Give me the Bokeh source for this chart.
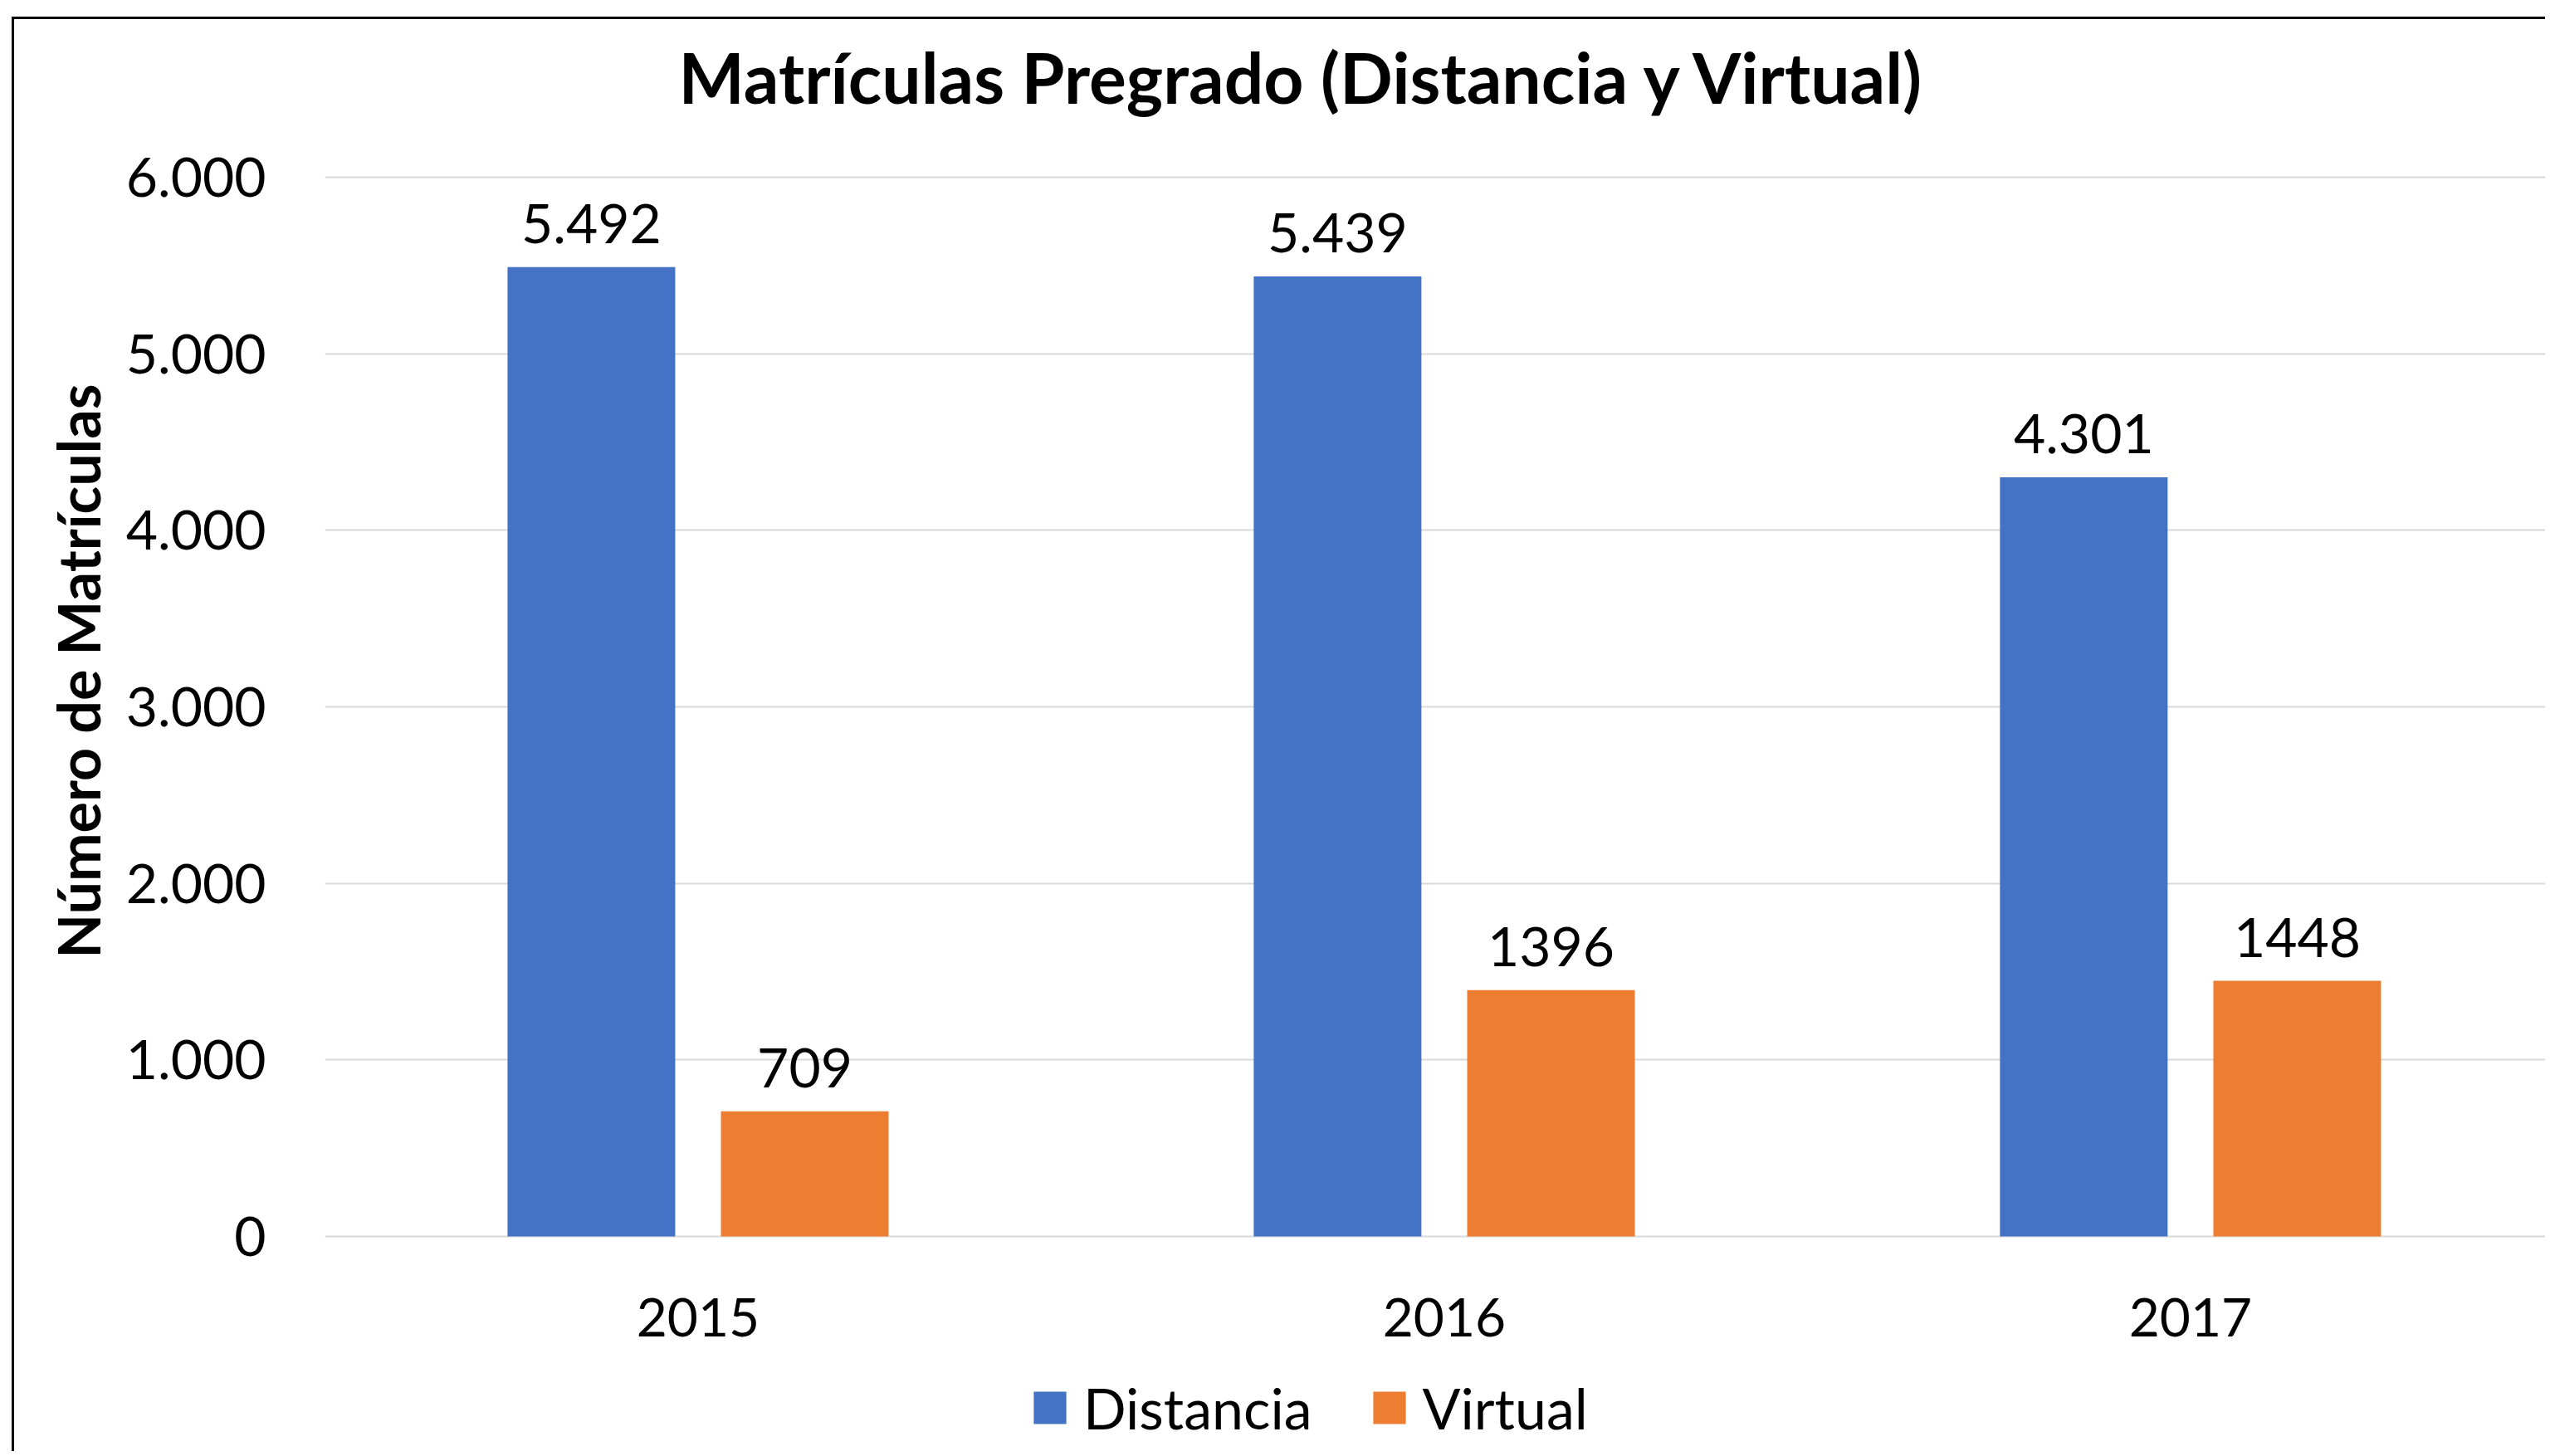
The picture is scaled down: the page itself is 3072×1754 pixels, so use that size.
from bokeh.plotting import figure
from bokeh.models import (ColumnDataSource, Range1d, FixedTicker, Legend, LegendItem,
                          Title, Label)
from bokeh.embed import file_html
from bokeh.resources import INLINE
from bokeh.core.properties import value

# ---- data ----
title_text = "Matrículas Pregrado (Distancia y Virtual)"
y_title_text = "Número de Matrículas"
years = ["2015", "2016", "2017"]
distancia = [5492, 5439, 4301]
virtual = [709, 1396, 1448]
distancia_labels = ["5.492", "5.439", "4.301"]
virtual_labels = ["709", "1396", "1448"]
y_ticks = [0, 1000, 2000, 3000, 4000, 5000, 6000]
y_tick_labels = ["0", "1.000", "2.000", "3.000", "4.000", "5.000", "6.000"]
series_names = ["Distancia", "Virtual"]
colors = ["#4472C4", "#ED7D31"]

FONT = "Lato"
BAR_W = 0.2247
OFFSET = 0.143

centers = [i + 0.5 for i in range(len(years))]

src_d = ColumnDataSource(dict(x=[c - OFFSET for c in centers], top=distancia, label=distancia_labels))
src_v = ColumnDataSource(dict(x=[c + OFFSET for c in centers], top=virtual, label=virtual_labels))

p = figure(width=3052, height=1728,
           x_range=Range1d(0, 2.979), y_range=Range1d(-1232, 6894),
           output_backend="svg", toolbar_location=None,
           min_border_left=374, min_border_right=0,
           min_border_top=0, min_border_bottom=0)
p.margin = (20, 0, 0, 14)
p.styles = {"border-top": "3px solid black", "border-left": "3px solid black"}
p.outline_line_color = None
p.background_fill_color = "white"
p.border_fill_color = "white"
p.title.visible = False

xax = p.below[0]
yax = p.left[0]

# chart title (placed above the 6.000 gridline)
p.add_layout(Label(x=1.311, y=6570, x_units="data", y_units="data", text=title_text,
                   text_font=FONT, text_font_size="84px", text_font_style="bold",
                   text_color="black", text_align="center", text_baseline="alphabetic"))

r_d = p.vbar(x="x", top="top", width=BAR_W, source=src_d, fill_color=colors[0], line_color=None)
r_v = p.vbar(x="x", top="top", width=BAR_W, source=src_v, fill_color=colors[1], line_color=None)

for src in (src_d, src_v):
    p.text(x="x", y="top", text="label", source=src,
           text_font=value(FONT), text_font_size="66px", text_color="black",
           text_align="center", text_baseline="alphabetic", y_offset=-52)

# axes
xax.fixed_location = 0
xax.ticker = FixedTicker(ticks=centers)
xax.major_label_overrides = {c: y for c, y in zip(centers, years)}
xax.major_label_text_font = FONT
xax.major_label_text_font_size = "64px"
xax.major_label_text_color = "black"
xax.major_tick_line_color = None
xax.minor_tick_line_color = None
xax.axis_line_color = None
xax.major_label_standoff = 68

yax.ticker = FixedTicker(ticks=y_ticks)
yax.major_label_overrides = {t: l for t, l in zip(y_ticks, y_tick_labels)}
yax.major_label_text_font = FONT
yax.major_label_text_font_size = "66px"
yax.major_label_text_color = "black"
yax.major_tick_line_color = None
yax.minor_tick_line_color = None
yax.axis_line_color = None
yax.major_label_standoff = 65

ytitle = Title(text=y_title_text, align="right", offset=439,
               text_font=FONT, text_font_size="70px", text_font_style="bold",
               text_color="black", standoff=26)
p.add_layout(ytitle, "left")

p.xgrid.grid_line_color = None
p.ygrid.grid_line_color = "#D9D9D9"
p.ygrid.grid_line_width = 2

legend = Legend(items=[LegendItem(label=series_names[0], renderers=[r_d]),
                       LegendItem(label=series_names[1], renderers=[r_v])],
                orientation="horizontal", location=(849, 15),
                glyph_width=49, glyph_height=49, label_standoff=16, spacing=68,
                padding=0, margin=0, border_line_color=None, background_fill_alpha=0,
                label_text_font=FONT, label_text_font_size="68px", label_text_color="black")
p.add_layout(legend, "center")

open("out.html", "w").write(file_html(p, INLINE))
